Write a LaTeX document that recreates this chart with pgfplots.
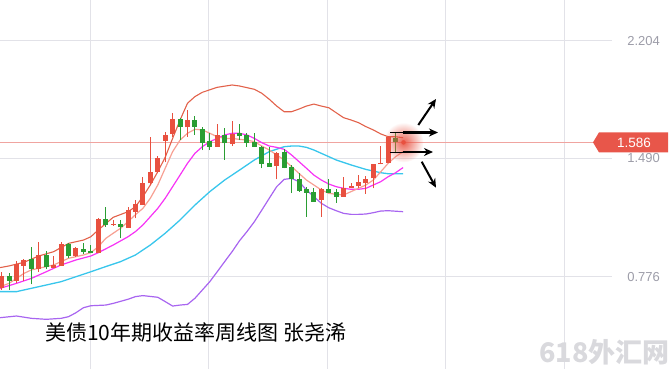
\documentclass[border=0pt]{standalone}
\usepackage{pgfplots}
\pgfplotsset{compat=1.18}
\usepackage{pgfplotstable}
\usepackage{fontspec}
\setmainfont{Liberation Sans}
\newfontfamily\cjk{Noto Sans CJK SC}
\usetikzlibrary{arrows.meta,fadings}
\definecolor{cred}{HTML}{E8503F}
\definecolor{cgreen}{HTML}{2A9D33}
\definecolor{cup}{HTML}{E2614A}
\definecolor{cma5}{HTML}{F7A093}
\definecolor{cma10}{HTML}{F733F5}
\definecolor{cma20}{HTML}{38C6EC}
\definecolor{clow}{HTML}{A865F0}
\definecolor{cgrid}{HTML}{E2E2E8}
\definecolor{ctick}{HTML}{9C9CA8}
\definecolor{cprice}{HTML}{F0A4A0}
\definecolor{cbox}{HTML}{E8564A}
\definecolor{cwm}{HTML}{D9D9DD}
\tikzfading[name=glowfade, inner color=transparent!10, outer color=transparent!100]

\pgfplotstableread{
i o h l c
0 0.706 0.806 0.696 0.780
2 0.752 0.873 0.736 0.847
3 0.841 0.881 0.752 0.873
5 0.822 0.983 0.806 0.903
7 0.831 0.903 0.831 0.841
8 0.841 0.987 0.841 0.969
10 0.901 0.957 0.893 0.947
13 0.921 1.128 0.917 1.118
15 1.088 1.118 1.084 1.092
17 1.072 1.194 1.072 1.174
18 1.168 1.239 1.128 1.214
19 1.208 1.379 1.208 1.339
20 1.339 1.620 1.329 1.405
21 1.405 1.504 1.399 1.486
22 1.596 1.651 1.465 1.625
23 1.637 1.761 1.620 1.721
25 1.677 1.781 1.620 1.715
29 1.560 1.695 1.560 1.627
31 1.576 1.715 1.564 1.631
37 1.444 1.530 1.363 1.520
43 1.239 1.309 1.138 1.299
46 1.259 1.379 1.259 1.309
47 1.309 1.339 1.309 1.319
48 1.325 1.389 1.309 1.345
49 1.339 1.383 1.275 1.365
50 1.369 1.454 1.309 1.454
51 1.454 1.564 1.454 1.460
52 1.464 1.624 1.460 1.614
}\redtable

\pgfplotstableread{
i o h l c
1 0.780 0.796 0.696 0.752
4 0.877 0.957 0.730 0.822
6 0.901 0.931 0.822 0.833
9 0.973 0.981 0.887 0.901
11 0.943 0.977 0.913 0.925
12 0.927 0.967 0.919 0.921
14 1.118 1.198 1.078 1.088
16 1.088 1.118 1.007 1.074
24 1.725 1.731 1.600 1.681
26 1.715 1.747 1.631 1.681
27 1.661 1.681 1.540 1.584
28 1.590 1.641 1.540 1.560
30 1.627 1.671 1.480 1.580
32 1.641 1.697 1.600 1.627
33 1.627 1.641 1.560 1.584
34 1.584 1.645 1.560 1.560
35 1.556 1.564 1.430 1.456
36 1.456 1.560 1.440 1.440
38 1.524 1.544 1.430 1.434
39 1.434 1.450 1.280 1.363
40 1.363 1.399 1.289 1.295
41 1.299 1.319 1.138 1.283
42 1.283 1.309 1.229 1.229
44 1.299 1.363 1.279 1.283
45 1.283 1.303 1.222 1.259
53 1.612 1.651 1.520 1.586
}\greentable

\begin{document}
\begin{tikzpicture}[x=1pt,y=1pt]
% grid
\foreach \gx in {90,208,327,445,564} \draw[cgrid, line width=0.8pt] (\gx,0) -- (\gx,369);
\foreach \gy in {329.0,210.7,92.3} \draw[cgrid, line width=0.8pt] (0,\gy) -- (612,\gy);

\begin{axis}[at={(0,0)}, anchor=south west, width=670pt, height=369pt, scale only axis,
  xmin=-0.224, xmax=89.91, ymin=0.2195, ymax=2.4446, hide axis, clip=true]

% current price line
\draw[cprice, line width=0.9pt] (axis cs:-0.224,1.586) -- (axis cs:79.6,1.586);

% lower band
\addplot[clow, line width=1.2pt] coordinates {
(-0.2,0.529) (2,0.539) (4,0.525) (6,0.519) (8,0.525) (9,0.535) (10,0.559) (11,0.589) (12,0.601) (14,0.605) (15,0.615) (17,0.640) (18,0.656) (19,0.662) (21,0.652) (22,0.626) (23,0.599) (24,0.605) (25,0.609) (26,0.646) (27,0.696) (28,0.746) (29,0.806) (30,0.867) (31,0.927) (32,0.993) (33,1.048) (34,1.108) (35,1.178) (36,1.249) (37,1.319) (38,1.363) (39,1.369) (40,1.349) (41,1.299) (42,1.259) (43,1.219) (44,1.192) (45,1.174) (46,1.158) (47,1.152) (48,1.152) (49,1.154) (50,1.162) (51,1.172) (52,1.174) (54,1.168)};

% MA20 cyan
\addplot[cma20, line width=1.3pt] coordinates {
(-0.2,0.686) (2,0.686) (4,0.706) (6,0.726) (8,0.746) (10,0.776) (12,0.806) (14,0.837) (16,0.867) (18,0.907) (20,0.967) (22,1.038) (24,1.118) (26,1.208) (28,1.289) (30,1.359) (32,1.419) (34,1.480) (36,1.530) (38,1.560) (39,1.564) (40,1.564) (41,1.556) (42,1.540) (43,1.520) (45,1.480) (47,1.450) (49,1.423) (51,1.403) (52,1.397) (54,1.397)};

% MA10 magenta
\addplot[cma10, line width=1.2pt] coordinates {
(-0.2,0.706) (2,0.736) (4,0.766) (6,0.806) (8,0.847) (10,0.877) (12,0.901) (13,0.921) (15,0.967) (17,1.017) (18,1.048) (19,1.088) (20,1.138) (21,1.188) (22,1.249) (23,1.319) (24,1.389) (25,1.460) (26,1.520) (27,1.560) (28,1.590) (29,1.610) (30,1.631) (31,1.641) (32,1.641) (33,1.631) (34,1.610) (35,1.584) (36,1.564) (37,1.556) (38,1.544) (39,1.510) (40,1.470) (41,1.430) (42,1.389) (43,1.359) (44,1.335) (45,1.319) (46,1.309) (47,1.303) (48,1.303) (49,1.309) (50,1.329) (51,1.349) (52,1.379) (53,1.403) (54,1.434)};

% MA5 salmon
\addplot[cma5, line width=1.2pt] coordinates {
(-0.2,0.716) (1,0.736) (2,0.766) (3,0.796) (4,0.817) (5,0.827) (6,0.837) (7,0.847) (8,0.867) (9,0.887) (10,0.897) (11,0.907) (12,0.921) (13,0.957) (14,1.007) (15,1.038) (16,1.068) (17,1.108) (18,1.150) (19,1.188) (20,1.249) (21,1.329) (22,1.430) (23,1.530) (24,1.600) (25,1.641) (26,1.665) (27,1.661) (28,1.641) (29,1.620) (30,1.610) (31,1.610) (32,1.604) (33,1.600) (34,1.590) (35,1.564) (36,1.540) (37,1.510) (38,1.480) (39,1.440) (40,1.399) (41,1.359) (42,1.329) (43,1.299) (44,1.279) (45,1.273) (46,1.269) (47,1.289) (48,1.309) (49,1.329) (50,1.359) (51,1.409) (52,1.460) (53,1.500) (54,1.530)};

% upper band
\addplot[cup, line width=1.1pt] coordinates {
(-0.2,0.831) (1,0.841) (3,0.863) (5,0.901) (7,0.927) (9,0.977) (11,0.997) (12,1.017) (13,1.058) (15,1.134) (17,1.168) (18,1.198) (19,1.259) (20,1.329) (21,1.409) (22,1.496) (23,1.610) (24,1.721) (25,1.822) (26,1.862) (27,1.888) (29,1.918) (31,1.932) (32,1.926) (34,1.906) (35,1.882) (36,1.846) (37,1.805) (38,1.771) (39,1.771) (40,1.787) (41,1.805) (42,1.817) (43,1.805) (44,1.795) (45,1.765) (46,1.735) (47,1.721) (48,1.705) (49,1.681) (50,1.661) (51,1.637) (52,1.620) (53,1.620) (54,1.614)};

% candles: wicks
\addplot[draw=none, mark=none, error bars/.cd, y dir=plus, y explicit, error mark=none,
  error bar style={line width=1pt, draw=cred, solid}]
  table[x=i, y=l, y error plus expr=\thisrow{h}-\thisrow{l}] {\redtable};
\addplot[draw=none, mark=none, error bars/.cd, y dir=plus, y explicit, error mark=none,
  error bar style={line width=1pt, draw=cgreen, solid}]
  table[x=i, y=l, y error plus expr=\thisrow{h}-\thisrow{l}] {\greentable};
% candles: bodies
\addplot[draw=none, mark=none, error bars/.cd, y dir=plus, y explicit, error mark=none,
  error bar style={line width=5pt, draw=cred, solid}]
  table[x=i, y=o, y error plus expr=\thisrow{c}-\thisrow{o}+0.003] {\redtable};
\addplot[draw=none, mark=none, error bars/.cd, y dir=plus, y explicit, error mark=none,
  error bar style={line width=5pt, draw=cgreen, solid}]
  table[x=i, y=c, y error plus expr=\thisrow{o}-\thisrow{c}+0.003] {\greentable};

% glow and dot
\fill[cred, path fading=glowfade] (axis cs:54.06,1.586) circle (20pt);
\addplot[only marks, mark=*, mark size=2pt, cred] coordinates {(54.06,1.586)};
\end{axis}

% arrows
\draw[black, line width=0.8pt] (390,236.5) -- (406,236.5);
\draw[black, line width=2.2pt, -{Stealth[length=9pt,width=8pt]}] (403,236.5) -- (438,236.5);
\draw[black, line width=0.8pt] (390,217) -- (406,217);
\draw[black, line width=2.2pt, -{Stealth[length=9pt,width=8pt]}] (403,217) -- (433,217);
\draw[black, line width=2pt, -{Stealth[length=9pt,width=8pt]}] (418.3,244) -- (436,270);
\draw[black, line width=2pt, -{Stealth[length=9pt,width=8pt]}] (421.7,207.3) -- (436,181.3);

% tick labels
\node[anchor=east, inner sep=0pt, text=ctick, font=\fontsize{13}{13}\selectfont] at (660,328.3) {2.204};
\node[anchor=east, inner sep=0pt, text=ctick, font=\fontsize{13}{13}\selectfont] at (660,210.7) {1.490};
\node[anchor=east, inner sep=0pt, text=ctick, font=\fontsize{13}{13}\selectfont] at (660,92.3) {0.776};

% price box
\fill[cbox] (593,226.6) -- (599,236.6) -- (668,236.6) -- (668,216.6) -- (599,216.6) -- cycle;
\node[inner sep=0pt, text=white, font=\fontsize{13.5}{13.5}\selectfont] at (634,226.6) {1.586};

% caption
\node[anchor=west, inner sep=0pt, font=\cjk\fontsize{21}{21}\selectfont] at (45,36) {美债10年期收益率周线图 张尧浠};
% watermark
\node[anchor=east, inner sep=0pt, text=cwm, font=\cjk\bfseries\fontsize{27}{27}\selectfont] at (670,17) {618外汇网};

\pgfresetboundingbox
\useasboundingbox (0,0) rectangle (670,369);
\end{tikzpicture}
\end{document}
